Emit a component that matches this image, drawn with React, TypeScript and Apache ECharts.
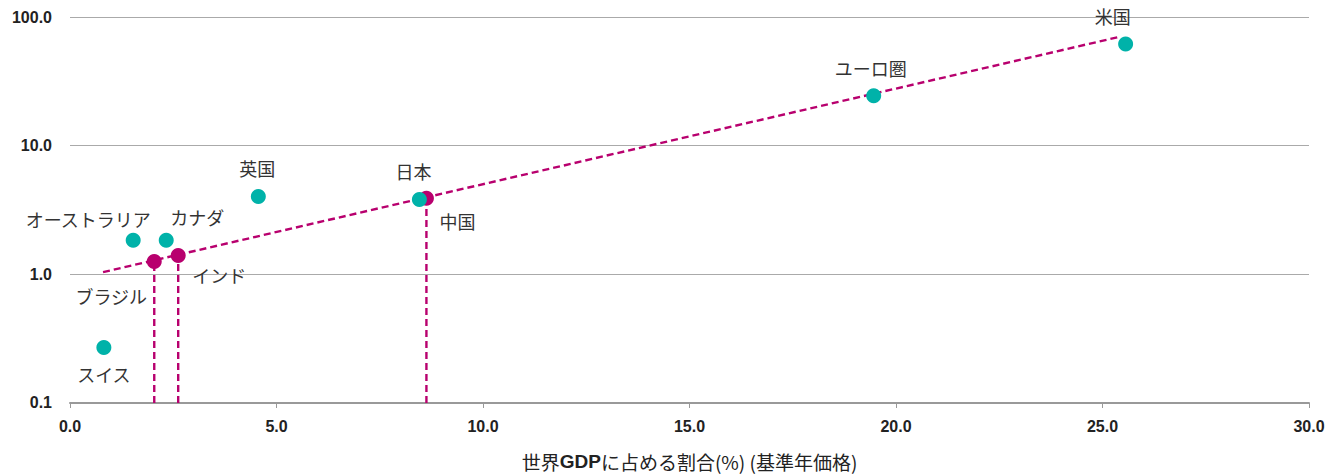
import React, { useEffect, useRef } from "react";
import * as echarts from "echarts";

const tealNames = ["米国", "ユーロ圏", "日本", "英国", "オーストラリア", "カナダ", "スイス"];
const tealX = [25.56, 19.46, 8.46, 4.56, 1.53, 2.33, 0.82];
const tealY = [61.8, 24.4, 3.81, 4.03, 1.84, 1.84, 0.27];
const tealOffsets: [number, number][] = [[-13, -28], [-3, -28], [-6, -29], [-1, -28], [-45, -21], [31, -23], [0, 27]];

const magentaNames = ["中国", "ブラジル", "インド"];
const magentaX = [8.63, 2.04, 2.62];
const magentaY = [3.9, 1.26, 1.4];
const magentaOffsets: [number, number][] = [[31, 23], [-43, 35], [41, 19]];

const trendX = [0.8, 25.4];
const trendY = [1.04, 70];

const yTicks = [0.1, 1, 10, 100];
const xTicks = [0, 5, 10, 15, 20, 25, 30];
const xTitleParts = ["世界", "GDP", "に占める割合(%) (基準年価格)"];

const TEAL = "#00b2a9";
const MAGENTA = "#b8006e";

export default function App() {
  const ref = useRef<HTMLDivElement>(null);
  useEffect(() => {
    if (!ref.current) return;
    const chart = echarts.init(ref.current, null, { renderer: "svg" });
    const labelBase = {
      show: true,
      position: "inside" as const,
      color: "#333",
      fontSize: 18,
      fontFamily: "Noto Sans CJK JP",
    };
    const dash = { color: MAGENTA, width: 2.4, type: [7, 4] };
    const series: any[] = [
      {
        type: "line",
        data: trendX.map((x, i) => [x, trendY[i]]),
        symbol: "none",
        lineStyle: dash,
        z: 2,
      },
      ...magentaX.map((x, i) => ({
        type: "line",
        data: [[x, yTicks[0]], [x, magentaY[i]]],
        symbol: "none",
        lineStyle: dash,
        z: 2,
      })),
      {
        type: "scatter",
        symbolSize: 15,
        itemStyle: { color: MAGENTA, opacity: 1 },
        data: magentaX.map((x, i) => ({
          value: [x, magentaY[i]],
          name: magentaNames[i],
          label: { ...labelBase, offset: magentaOffsets[i], formatter: magentaNames[i] },
        })),
        z: 3,
      },
      {
        type: "scatter",
        symbolSize: 15,
        itemStyle: { color: TEAL, opacity: 1 },
        data: tealX.map((x, i) => ({
          value: [x, tealY[i]],
          name: tealNames[i],
          label: { ...labelBase, offset: tealOffsets[i], formatter: tealNames[i] },
        })),
        z: 4,
      },
    ];
    chart.setOption({
      animation: false,
      grid: { left: 70, right: 29, top: 17, bottom: 72, containLabel: false },
      xAxis: {
        type: "value",
        min: xTicks[0],
        max: xTicks[xTicks.length - 1],
        interval: 5,
        name: `${xTitleParts[0]}{b|${xTitleParts[1]}}${xTitleParts[2]}`,
        nameLocation: "middle",
        nameGap: 49,
        nameTextStyle: {
          color: "#222",
          fontSize: 19,
          fontFamily: "Noto Sans CJK JP",
          rich: {
            b: { fontSize: 19, fontWeight: "bold", fontFamily: "Liberation Sans, Arial, sans-serif", color: "#222" },
          },
        },
        axisLine: { show: true, lineStyle: { color: "#999", width: 2 } },
        axisTick: { show: true, length: 5, lineStyle: { color: "#999", width: 1 } },
        splitLine: { show: false },
        axisLabel: {
          color: "#222",
          fontSize: 16,
          fontWeight: "bold",
          fontFamily: "Liberation Sans, Arial, sans-serif",
          margin: 16,
          formatter: (v: number) => v.toFixed(1),
        },
      },
      yAxis: {
        type: "log",
        logBase: 10,
        min: yTicks[0],
        max: yTicks[yTicks.length - 1],
        axisLine: { show: false },
        axisTick: { show: false },
        splitLine: { show: true, lineStyle: { color: "#aaa", width: 1 } },
        axisLabel: {
          color: "#222",
          fontSize: 16,
          fontWeight: "bold",
          fontFamily: "Liberation Sans, Arial, sans-serif",
          margin: 18,
          formatter: (v: number) => Number(v).toFixed(1),
        },
      },
      series,
    });
    return () => chart.dispose();
  }, []);
  return (
    <div
      ref={ref}
      style={{ position: "fixed", left: 0, top: 0, width: 1338, height: 476, background: "#fff" }}
    />
  );
}
